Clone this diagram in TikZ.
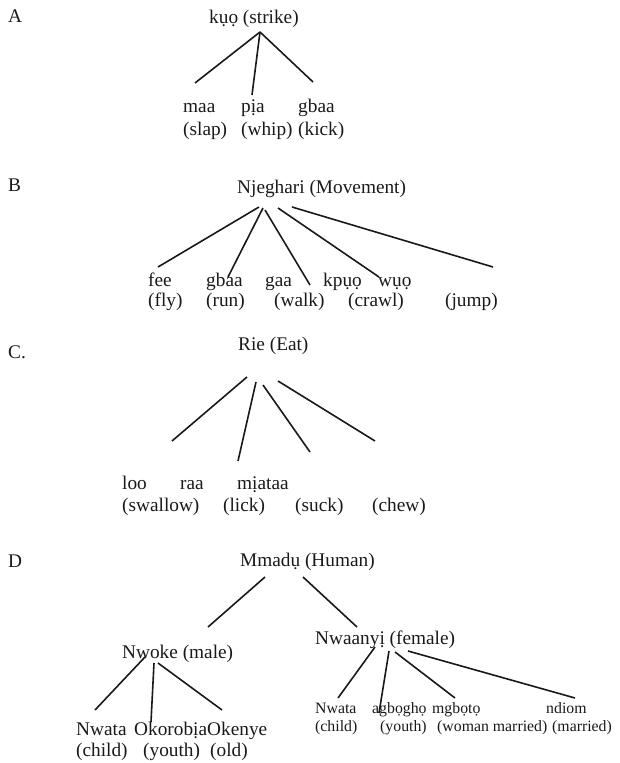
\documentclass[tikz,border=0pt]{standalone}
\usepackage{fontspec}
\setmainfont{Liberation Serif}
\begin{document}
\begin{tikzpicture}[x=1pt,y=-1pt,
  lbl/.style={anchor=base west,inner sep=0pt,font=\fontsize{19.3}{22}\selectfont,text=black!90},
  sml/.style={anchor=base west,inner sep=0pt,font=\fontsize{15.8}{18}\selectfont,text=black!90},
  br/.style={line width=1.6pt,black!90}]
\useasboundingbox (0,0) rectangle (620,763);
% ---------- A ----------
\node[lbl] (lA) at (8,22) {A};
\node[lbl] (kuo) at (209,23) {kụọ (strike)};
\node[lbl] (maa) at (183,112) {maa};
\node[lbl] (pia) at (241,112) {pịa};
\node[lbl] (gbaaA) at (298,112) {gbaa};
\node[lbl] (slap) at (183,135) {(slap)};
\node[lbl] (whip) at (241,135) {(whip)};
\node[lbl] (kick) at (298,135) {(kick)};
\coordinate (a0) at (260,32);
\coordinate (a1) at (195,83);
\coordinate (a2) at (252,95);
\coordinate (a3) at (313,82);
\draw[br] (a0) -- (a1);
\draw[br] (a0) -- (a2);
\draw[br] (a0) -- (a3);
% ---------- B ----------
\node[lbl] (lB) at (8,191) {B};
\node[lbl] (nje) at (237,193) {Njeghari (Movement)};
\node[lbl] (fee) at (148,286) {fee};
\node[lbl] (gbaaB) at (206,286) {gbaa};
\node[lbl] (gaa) at (265,286) {gaa};
\node[lbl] (kpuo) at (323,286) {kpụọ};
\node[lbl] (wuo) at (378,286) {wụọ};
\node[lbl] (fly) at (148,306) {(fly)};
\node[lbl] (run) at (206,306) {(run)};
\node[lbl] (walk) at (274,306) {(walk)};
\node[lbl] (crawl) at (348,306) {(crawl)};
\node[lbl] (jump) at (445,306) {(jump)};
\coordinate (b1s) at (259,207); \coordinate (b1e) at (158,267);
\coordinate (b2s) at (263,208); \coordinate (b2e) at (228,277);
\coordinate (b3s) at (265,210); \coordinate (b3e) at (310,285);
\coordinate (b4s) at (278,208); \coordinate (b4e) at (379,277);
\coordinate (b5s) at (292,207); \coordinate (b5e) at (493,267);
\draw[br] (b1s) -- (b1e);
\draw[br] (b2s) -- (b2e);
\draw[br] (b3s) -- (b3e);
\draw[br] (b4s) -- (b4e);
\draw[br] (b5s) -- (b5e);
% ---------- C ----------
\node[lbl] (lC) at (8,358) {C.};
\node[lbl] (rie) at (238,350) {Rie (Eat)};
\node[lbl] (loo) at (122,489) {loo};
\node[lbl] (raa) at (180,489) {raa};
\node[lbl] (miataa) at (237,489) {mịataa};
\node[lbl] (swallow) at (122,511) {(swallow)};
\node[lbl] (lick) at (223,511) {(lick)};
\node[lbl] (suck) at (295,511) {(suck)};
\node[lbl] (chew) at (372,511) {(chew)};
\coordinate (c1s) at (247,377); \coordinate (c1e) at (172,441);
\coordinate (c2s) at (256,382); \coordinate (c2e) at (238,461);
\coordinate (c3s) at (263,385); \coordinate (c3e) at (310,452);
\coordinate (c4s) at (278,381); \coordinate (c4e) at (375,441);
\draw[br] (c1s) -- (c1e);
\draw[br] (c2s) -- (c2e);
\draw[br] (c3s) -- (c3e);
\draw[br] (c4s) -- (c4e);
% ---------- D ----------
\node[lbl] (lD) at (8,567) {D};
\node[lbl] (mmadu) at (240,566) {Mmadụ (Human)};
\node[lbl] (nwoke) at (122,658) {Nwoke (male)};
\node[lbl] (nwaanyi) at (315,644) {Nwaanyị (female)};
\coordinate (d1s) at (265,577); \coordinate (d1e) at (208,627);
\coordinate (d2s) at (303,577); \coordinate (d2e) at (357,627);
\draw[br] (d1s) -- (d1e);
\draw[br] (d2s) -- (d2e);
% Nwoke children
\node[lbl] (nwataM) at (76,735) {Nwata};
\node[lbl] (okorobia) at (134,735) {Okorobịa};
\node[lbl] (okenye) at (207,735) {Okenye};
\node[lbl] (childM) at (76,756) {(child)};
\node[lbl] (youthM) at (143,756) {(youth)};
\node[lbl] (old) at (210,756) {(old)};
\coordinate (m1s) at (145,657); \coordinate (m1e) at (95,710);
\coordinate (m2s) at (154,663); \coordinate (m2e) at (151,722);
\coordinate (m3s) at (158,663); \coordinate (m3e) at (222,710);
\draw[br] (m1s) -- (m1e);
\draw[br] (m2s) -- (m2e);
\draw[br] (m3s) -- (m3e);
% Nwaanyi children
\node[sml] (nwataF) at (315,713) {Nwata};
\node[sml] (agbogho) at (372,713) {agbọghọ};
\node[sml] (mgboto) at (432,713) {mgbọtọ};
\node[sml] (ndiom) at (546,713) {ndiom};
\node[sml] (childF) at (315,731) {(child)};
\node[sml] (youthF) at (380,731) {(youth)};
\node[sml] (woman) at (437,731) {(woman married)};
\node[sml] (married) at (552,731) {(married)};
\coordinate (f1s) at (375,647); \coordinate (f1e) at (338,698);
\coordinate (f2s) at (389,651); \coordinate (f2e) at (379,713);
\coordinate (f3s) at (395,652); \coordinate (f3e) at (455,698);
\coordinate (f4s) at (408,651); \coordinate (f4e) at (575,698);
\draw[br] (f1s) -- (f1e);
\draw[br] (f2s) -- (f2e);
\draw[br] (f3s) -- (f3e);
\draw[br] (f4s) -- (f4e);
\end{tikzpicture}
\end{document}
